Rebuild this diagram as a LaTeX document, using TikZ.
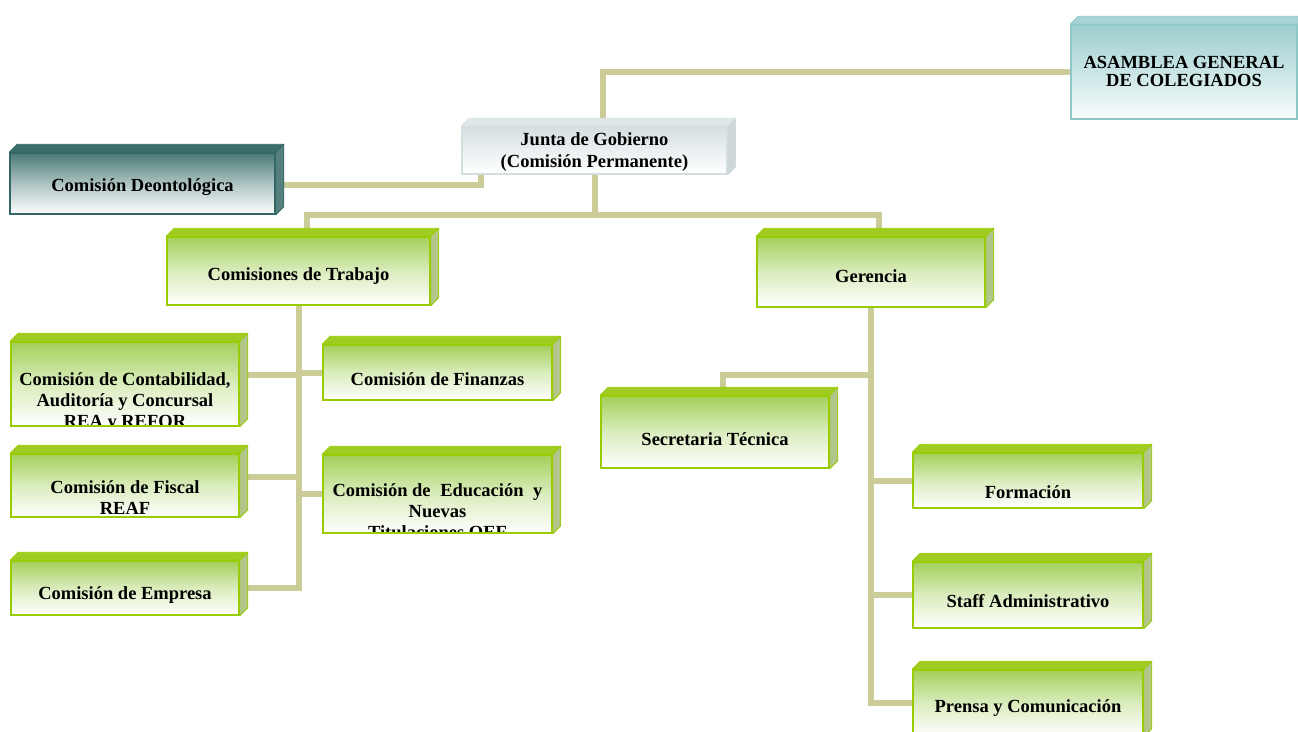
\documentclass[tikz,border=0pt]{standalone}
\usepackage{fontspec}
\setmainfont{Liberation Serif}
\definecolor{linea}{HTML}{CCCC99}
\definecolor{verdeBorde}{HTML}{99CC00}
\definecolor{verdeSup}{HTML}{A3D05A}
\definecolor{verdeTapa}{HTML}{A0CC22}
\definecolor{verdeLado}{HTML}{B3C68A}
\definecolor{deonBorde}{HTML}{336666}
\definecolor{deonSup}{HTML}{4A7A77}
\definecolor{deonTapa}{HTML}{3E6E6B}
\definecolor{deonLado}{HTML}{55807D}
\definecolor{juntaBorde}{HTML}{D4DEE0}
\definecolor{juntaSup}{HTML}{D6DFE2}
\definecolor{juntaTapa}{HTML}{E0E7E8}
\definecolor{juntaLado}{HTML}{CDD6D8}
\definecolor{asamBorde}{HTML}{8FC8C8}
\definecolor{asamSup}{HTML}{9ECFCF}
\definecolor{asamTapa}{HTML}{A6D3D3}
\definecolor{asamLado}{HTML}{9CC6C6}
\tikzset{
  rotulo/.style={font=\fontsize{18.5}{21}\selectfont\bfseries, align=center, inner sep=0pt},
  texto/.style 2 args={path picture={\node[rotulo] at ([yshift=#1]path picture bounding box.center) {#2};}},
  caja/.style={line width=1.5pt, inner sep=0pt},
  verde/.style={caja, draw=verdeBorde, top color=verdeSup, bottom color=white, middle color=verdeSup!40!white},
  deon/.style={caja, draw=deonBorde, top color=deonSup, bottom color=white, middle color=deonSup!45!white},
  junta/.style={caja, draw=juntaBorde, top color=juntaSup, bottom color=white},
  asam/.style={caja, draw=asamBorde, top color=asamSup, bottom color=white!95!asamSup, middle color=asamSup!55!white},
  union/.style={draw=linea, line width=6pt}
}
\begin{document}
\begin{tikzpicture}[x=1pt, y=-1pt]
  \useasboundingbox (0,0) rectangle (1298,731);

  \node[asam, minimum width=226pt, minimum height=94pt, texto={1pt}{ASAMBLEA GENERAL\\[-3pt]DE COLEGIADOS}] (asam) at (1184,72) {};
  \node[junta, minimum width=265pt, minimum height=47pt, texto={-1.5pt}{Junta de Gobierno\\[1pt](Comisión Permanente)}] (junta) at (594.5,150.5) {};
  \node[deon, minimum width=265pt, minimum height=61pt, texto={-4pt}{Comisión Deontológica}] (deon) at (142.5,183.5) {};

  \node[verde, minimum width=263pt, minimum height=68pt, texto={-5pt}{Comisiones de Trabajo}] (trab) at (298.5,271) {};
  \node[verde, minimum width=228pt, minimum height=70pt, texto={-4pt}{Gerencia}] (ger) at (871,272) {};

  \node[verde, minimum width=228pt, minimum height=84pt, texto={-18pt}{Comisión de Contabilidad,\\Auditoría y Concursal\\REA y REFOR}] (cont) at (125,384) {};
  \node[verde, minimum width=229pt, minimum height=55pt, texto={-6.5pt}{Comisión de Finanzas}] (fin) at (437.5,372.5) {};
  \node[verde, minimum width=228pt, minimum height=63pt, texto={-12pt}{Comisión de Fiscal\\REAF}] (fisc) at (125,485.5) {};
  \node[verde, minimum width=229pt, minimum height=78pt, texto={-17pt}{Comisión de\hspace{5pt} Educación\hspace{5pt} y\\Nuevas\\Titulaciones OEF}] (edu) at (437.5,494) {};
  \node[verde, minimum width=228pt, minimum height=54pt, texto={-7pt}{Comisión de Empresa}] (emp) at (125,588) {};

  \node[verde, minimum width=228pt, minimum height=72pt, texto={-7pt}{Secretaria Técnica}] (sec) at (715,432) {};
  \node[verde, minimum width=230pt, minimum height=55pt, texto={-11.5pt}{Formación}] (form) at (1028,480.5) {};
  \node[verde, minimum width=230pt, minimum height=66pt, texto={-6pt}{Staff Administrativo}] (staff) at (1028,595) {};
  \node[verde, minimum width=230pt, minimum height=66pt, texto={-5pt}{Prensa y Comunicación}] (prensa) at (1028,703) {};

  % uniones
  \draw[union] ([xshift=8pt]junta.north) |- (asam.west);
  \draw[union] ([yshift=-1.5pt]deon.east) -| ([xshift=20pt]junta.south west);
  \draw[union] (junta.south) -- ++(0,42);
  \draw[union] ([xshift=8pt]trab.north) -- ++(0,-21) -| ([xshift=8pt]ger.north);
  \draw[union] ([yshift=9pt]cont.east) -| (trab.south);
  \draw[union] ([yshift=8.5pt]fisc.east) -| (trab.south);
  \draw[union] (emp.east) -| (trab.south);
  \draw[union] (fin.west) -| (trab.south);
  \draw[union] (edu.west) -| (trab.south);
  \draw[union] (ger.south) -- ++(0,67) -| ([xshift=8pt]sec.north);
  \foreach \n in {form, staff, prensa}
    \draw[union] (\n.west) -| (ger.south);

  % relieve de las cajas
  \foreach \n/\b/\t/\l in {asam/asamBorde/asamTapa/asamLado, junta/juntaBorde/juntaTapa/juntaLado,
      deon/deonBorde/deonTapa/deonLado, trab/verdeBorde/verdeTapa/verdeLado, ger/verdeBorde/verdeTapa/verdeLado,
      cont/verdeBorde/verdeTapa/verdeLado, fin/verdeBorde/verdeTapa/verdeLado, fisc/verdeBorde/verdeTapa/verdeLado,
      edu/verdeBorde/verdeTapa/verdeLado, emp/verdeBorde/verdeTapa/verdeLado, sec/verdeBorde/verdeTapa/verdeLado,
      form/verdeBorde/verdeTapa/verdeLado, staff/verdeBorde/verdeTapa/verdeLado, prensa/verdeBorde/verdeTapa/verdeLado} {
    \filldraw[fill=\t, draw=\b, line width=0.8pt, line join=round]
      (\n.north west) -- ([shift={(8,-8)}]\n.north west) -- ([shift={(8,-8)}]\n.north east) -- (\n.north east) -- cycle;
    \filldraw[fill=\l, draw=\b, line width=0.8pt, line join=round]
      (\n.north east) -- ([shift={(8,-8)}]\n.north east) -- ([shift={(8,-8)}]\n.south east) -- (\n.south east) -- cycle;
  }
\end{tikzpicture}
\end{document}
